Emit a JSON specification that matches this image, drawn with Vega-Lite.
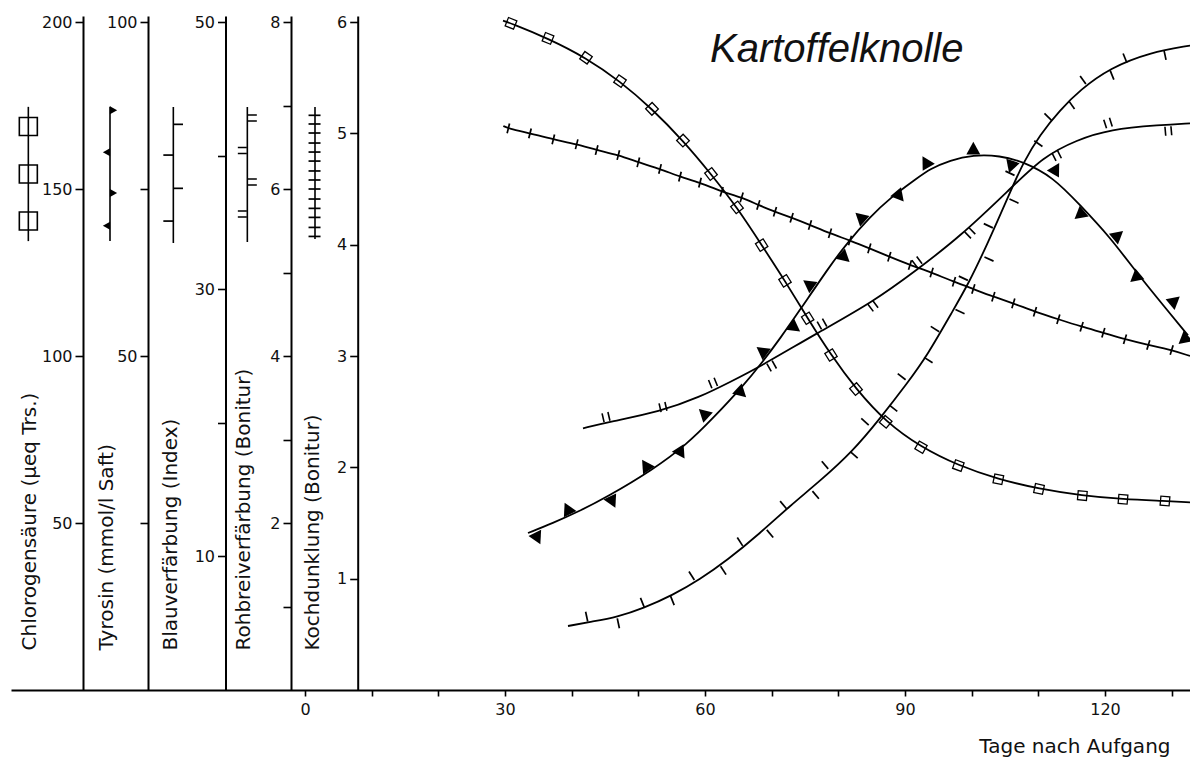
{
  "$schema": "https://vega.github.io/schema/vega-lite/v6.json",
  "width": 1179,
  "height": 674,
  "autosize": {"type": "none"},
  "padding": {"left": 11, "top": 16, "right": 0, "bottom": 68},
  "background": "white",
  "config": {
    "view": {"stroke": null},
    "axis": {
      "domainColor": "black", "domainWidth": 2, "tickColor": "black", "tickWidth": 1.6,
      "labelFont": "DejaVu Sans", "labelFontSize": 16, "labelColor": "#111111",
      "titleFont": "DejaVu Sans", "titleFontSize": 20, "titleFontWeight": "normal", "titleColor": "#111111",
      "grid": false, "labelOverlap": false, "labelFlush": false, "format": "d"
    }
  },
  "title": {
    "text": "Kartoffelknolle", "font": "Liberation Sans", "fontStyle": "italic", "fontWeight": "normal",
    "fontSize": 40, "color": "#111111", "anchor": "start", "frame": "group", "orient": "top",
    "baseline": "alphabetic", "offset": 0, "dx": 699, "dy": 88
  },
  "datasets": {
    "chl_line": [
      {"t": 29.7, "v": 200.4}, {"t": 30.9, "v": 199.6}, {"t": 36.45, "v": 195.1}, {"t": 42.15, "v": 189.3},
      {"t": 47.25, "v": 182.3}, {"t": 52.05, "v": 174.0}, {"t": 56.7, "v": 164.5}, {"t": 60.9, "v": 154.5},
      {"t": 64.8, "v": 144.5}, {"t": 68.5, "v": 133.2}, {"t": 72.0, "v": 122.5}, {"t": 75.4, "v": 111.3},
      {"t": 78.9, "v": 100.3}, {"t": 82.65, "v": 90.1}, {"t": 87.1, "v": 80.3}, {"t": 92.4, "v": 72.7},
      {"t": 98.0, "v": 67.2}, {"t": 104.0, "v": 63.1}, {"t": 110.1, "v": 60.2}, {"t": 116.6, "v": 58.2},
      {"t": 122.7, "v": 57.1}, {"t": 129.0, "v": 56.6}, {"t": 132.75, "v": 56.2}
    ],
    "chl_mk": [
      {"t": 30.9, "v": 199.6}, {"t": 36.45, "v": 195.1}, {"t": 42.15, "v": 189.3},
      {"t": 47.25, "v": 182.3}, {"t": 52.05, "v": 174.0}, {"t": 56.7, "v": 164.5}, {"t": 60.9, "v": 154.5},
      {"t": 64.8, "v": 144.5}, {"t": 68.5, "v": 133.2}, {"t": 72.0, "v": 122.5}, {"t": 75.4, "v": 111.3},
      {"t": 78.9, "v": 100.3}, {"t": 82.65, "v": 90.1}, {"t": 87.1, "v": 80.3}, {"t": 92.4, "v": 72.7},
      {"t": 98.0, "v": 67.2}, {"t": 104.0, "v": 63.1}, {"t": 110.1, "v": 60.2}, {"t": 116.6, "v": 58.2},
      {"t": 122.7, "v": 57.1}, {"t": 129.0, "v": 56.6}
    ],
    "chl_leg": [{"t": -41.5, "v": 134.4, "v2": 174.6}],
    "chl_legmk": [{"t": -41.5, "v": 168.7}, {"t": -41.5, "v": 154.5}, {"t": -41.5, "v": 140.4}],
    "tyr_line": [
      {"t": 33.45, "v": 23.5}, {"t": 37.2, "v": 25.0}, {"t": 40.8, "v": 26.6}, {"t": 45.3, "v": 28.9},
      {"t": 52.2, "v": 33.0}, {"t": 57.3, "v": 36.8}, {"t": 61.2, "v": 40.7}, {"t": 65.7, "v": 45.5},
      {"t": 68.7, "v": 49.2}, {"t": 71.25, "v": 52.6}, {"t": 74.25, "v": 56.9}, {"t": 78.75, "v": 63.5},
      {"t": 81.3, "v": 66.9}, {"t": 84.75, "v": 70.8}, {"t": 87.75, "v": 73.65}, {"t": 91.8, "v": 76.6},
      {"t": 93.75, "v": 78.0}, {"t": 96.75, "v": 79.3}, {"t": 100.2, "v": 80.1}, {"t": 104.25, "v": 80.0},
      {"t": 107.7, "v": 79.1}, {"t": 112.2, "v": 76.8}, {"t": 116.25, "v": 72.6}, {"t": 120.75, "v": 67.8},
      {"t": 124.8, "v": 62.4}, {"t": 129.3, "v": 56.9}, {"t": 132.45, "v": 53.1}
    ],
    "tyr_up": [
      {"t": 39.5, "v": 26.9}, {"t": 51.25, "v": 33.4}, {"t": 60.0, "v": 41.2}, {"t": 68.75, "v": 50.6},
      {"t": 75.75, "v": 60.6}, {"t": 83.5, "v": 70.6}, {"t": 93.25, "v": 78.8}, {"t": 100.25, "v": 80.8},
      {"t": 112.5, "v": 77.8}, {"t": 121.75, "v": 67.9}, {"t": 130.25, "v": 58.1}
    ],
    "tyr_down": [
      {"t": 34.75, "v": 22.95}, {"t": 46.0, "v": 28.4}, {"t": 56.25, "v": 35.7}, {"t": 65.25, "v": 44.7},
      {"t": 73.25, "v": 54.4}, {"t": 80.75, "v": 64.9}, {"t": 89.0, "v": 74.1}, {"t": 106.0, "v": 78.6},
      {"t": 116.4, "v": 71.3}, {"t": 124.75, "v": 61.9}, {"t": 132.0, "v": 52.6}
    ],
    "tyr_leg": [{"t": -29.25, "v": 67.2, "v2": 87.3}],
    "tyr_legmk_r": [{"t": -28.9, "v": 86.8}, {"t": -28.9, "v": 74.4}],
    "tyr_legmk_l": [{"t": -29.6, "v": 80.5}, {"t": -29.6, "v": 69.5}],
    "bla_line": [
      {"t": 39.45, "v": 4.79}, {"t": 43.2, "v": 5.13}, {"t": 46.8, "v": 5.46}, {"t": 50.7, "v": 6.11},
      {"t": 55.2, "v": 7.11}, {"t": 59.25, "v": 8.29}, {"t": 63.3, "v": 9.7}, {"t": 68.25, "v": 11.73},
      {"t": 72.75, "v": 13.79}, {"t": 77.25, "v": 15.64}, {"t": 82.2, "v": 17.89}, {"t": 86.25, "v": 20.32},
      {"t": 90.3, "v": 22.94}, {"t": 93.3, "v": 25.0}, {"t": 97.2, "v": 28.41}, {"t": 99.45, "v": 30.35},
      {"t": 102.3, "v": 33.31}, {"t": 105.75, "v": 37.24}, {"t": 107.7, "v": 39.46}, {"t": 110.25, "v": 41.58},
      {"t": 113.25, "v": 43.41}, {"t": 116.25, "v": 44.91}, {"t": 120.75, "v": 46.56}, {"t": 126.75, "v": 47.72},
      {"t": 132.75, "v": 48.24}
    ],
    "bla_mk": [
      {"t": 42.25, "v": 5.49}, {"t": 50.6, "v": 6.55}, {"t": 58.0, "v": 8.55}, {"t": 65.25, "v": 11.1},
      {"t": 71.75, "v": 13.85}, {"t": 78.0, "v": 16.84}, {"t": 84.0, "v": 20.08}, {"t": 89.5, "v": 23.45},
      {"t": 94.5, "v": 27.02}, {"t": 98.75, "v": 30.82}, {"t": 102.5, "v": 34.75}, {"t": 105.75, "v": 38.68},
      {"t": 111.45, "v": 42.9}, {"t": 116.7, "v": 45.66}, {"t": 123.0, "v": 47.3},
      {"t": 47.0, "v": 4.99}, {"t": 55.1, "v": 6.7}, {"t": 62.75, "v": 8.95}, {"t": 69.75, "v": 11.7},
      {"t": 76.6, "v": 14.6}, {"t": 82.35, "v": 17.6}, {"t": 88.25, "v": 21.09}, {"t": 93.5, "v": 24.7},
      {"t": 98.25, "v": 28.32}, {"t": 102.6, "v": 32.26}, {"t": 106.35, "v": 36.6}, {"t": 110.0, "v": 40.9},
      {"t": 115.0, "v": 43.79}, {"t": 121.05, "v": 46.03}, {"t": 129.0, "v": 47.53}
    ],
    "bla_leg": [{"t": -19.75, "v": 33.46, "v2": 43.64}],
    "bla_legmk": [{"t": -19.05, "v": 42.34}, {"t": -20.5, "v": 40.04}, {"t": -19.05, "v": 37.55}, {"t": -20.5, "v": 35.1}],
    "roh_line": [
      {"t": 41.7, "v": 3.134}, {"t": 45.75, "v": 3.213}, {"t": 53.25, "v": 3.333}, {"t": 59.25, "v": 3.509},
      {"t": 63.75, "v": 3.689}, {"t": 68.25, "v": 3.872}, {"t": 76.75, "v": 4.272}, {"t": 85.25, "v": 4.65},
      {"t": 91.75, "v": 5.03}, {"t": 98.25, "v": 5.429}, {"t": 105.75, "v": 6.0}, {"t": 110.75, "v": 6.387},
      {"t": 115.75, "v": 6.587}, {"t": 120.75, "v": 6.715}, {"t": 128.25, "v": 6.766}, {"t": 132.75, "v": 6.787}
    ],
    "roh_mk": [
      {"t": 45.15, "v": 3.269}, {"t": 53.7, "v": 3.389}, {"t": 61.2, "v": 3.677}, {"t": 70.0, "v": 3.88},
      {"t": 77.55, "v": 4.383}, {"t": 85.2, "v": 4.599}, {"t": 91.8, "v": 5.126}, {"t": 99.75, "v": 5.473},
      {"t": 112.75, "v": 6.4}, {"t": 120.45, "v": 6.79}, {"t": 129.5, "v": 6.695}
    ],
    "roh_leg": [{"t": -8.65, "v": 5.365, "v2": 6.982}],
    "roh_legmk": [{"t": -7.9, "v": 6.85}, {"t": -9.4, "v": 6.461}, {"t": -7.9, "v": 6.084}, {"t": -9.4, "v": 5.7}],
    "koc_line": [
      {"t": 29.75, "v": 5.066}, {"t": 30.5, "v": 5.045}, {"t": 33.75, "v": 5.0}, {"t": 37.25, "v": 4.946},
      {"t": 40.75, "v": 4.902}, {"t": 43.75, "v": 4.85}, {"t": 47.0, "v": 4.805}, {"t": 50.0, "v": 4.74},
      {"t": 53.25, "v": 4.68}, {"t": 56.25, "v": 4.611}, {"t": 59.25, "v": 4.557}, {"t": 62.5, "v": 4.476},
      {"t": 65.5, "v": 4.425}, {"t": 68.0, "v": 4.356}, {"t": 70.5, "v": 4.296}, {"t": 73.0, "v": 4.242},
      {"t": 75.75, "v": 4.177}, {"t": 78.75, "v": 4.102}, {"t": 81.75, "v": 4.037}, {"t": 84.65, "v": 3.967},
      {"t": 87.65, "v": 3.892}, {"t": 90.75, "v": 3.817}, {"t": 94.0, "v": 3.75}, {"t": 97.35, "v": 3.667},
      {"t": 100.25, "v": 3.602}, {"t": 103.25, "v": 3.533}, {"t": 106.25, "v": 3.473}, {"t": 109.5, "v": 3.398},
      {"t": 113.0, "v": 3.33}, {"t": 116.5, "v": 3.263}, {"t": 119.75, "v": 3.209}, {"t": 123.0, "v": 3.15},
      {"t": 126.5, "v": 3.099}, {"t": 130.0, "v": 3.054}, {"t": 132.75, "v": 3.0}
    ],
    "koc_mk": [
      {"t": 30.5, "v": 5.045}, {"t": 33.75, "v": 5.0}, {"t": 37.25, "v": 4.946},
      {"t": 40.75, "v": 4.902}, {"t": 43.75, "v": 4.85}, {"t": 47.0, "v": 4.805}, {"t": 50.0, "v": 4.74},
      {"t": 53.25, "v": 4.68}, {"t": 56.25, "v": 4.611}, {"t": 59.25, "v": 4.557}, {"t": 62.5, "v": 4.476},
      {"t": 65.5, "v": 4.425}, {"t": 68.0, "v": 4.356}, {"t": 70.5, "v": 4.296}, {"t": 73.0, "v": 4.242},
      {"t": 75.75, "v": 4.177}, {"t": 78.75, "v": 4.102}, {"t": 81.75, "v": 4.037}, {"t": 84.65, "v": 3.967},
      {"t": 87.65, "v": 3.892}, {"t": 90.75, "v": 3.817}, {"t": 94.0, "v": 3.75}, {"t": 97.35, "v": 3.667},
      {"t": 100.25, "v": 3.602}, {"t": 103.25, "v": 3.533}, {"t": 106.25, "v": 3.473}, {"t": 109.5, "v": 3.398},
      {"t": 113.0, "v": 3.33}, {"t": 116.5, "v": 3.263}, {"t": 119.75, "v": 3.209}, {"t": 123.0, "v": 3.15},
      {"t": 126.5, "v": 3.099}, {"t": 130.0, "v": 3.054}
    ],
    "koc_leg": [{"t": 1.5, "v": 4.051, "v2": 5.237}],
    "koc_legmk": [
      {"t": 1.43, "v": 5.162}, {"t": 1.43, "v": 5.084}, {"t": 1.43, "v": 5.003}, {"t": 1.43, "v": 4.913},
      {"t": 1.43, "v": 4.832}, {"t": 1.43, "v": 4.751}, {"t": 1.43, "v": 4.662}, {"t": 1.43, "v": 4.581},
      {"t": 1.43, "v": 4.5}, {"t": 1.43, "v": 4.41}, {"t": 1.43, "v": 4.326}, {"t": 1.43, "v": 4.245},
      {"t": 1.43, "v": 4.155}, {"t": 1.43, "v": 4.074}
    ]
  },
  "layer": [
    {
      "layer": [
        {
          "data": {"name": "chl_line"},
          "mark": {"type": "line", "interpolate": "basis", "color": "black", "strokeWidth": 1.8},
          "encoding": {
            "x": {"field": "t", "type": "quantitative", "scale": {"domain": [-44.1, 132.75], "nice": false, "zero": false},
              "axis": {"values": [0, 10, 20, 30, 40, 50, 60, 70, 80, 90, 100, 110, 120, 130],
                "labelExpr": "datum.value % 30 === 0 ? datum.label : ''", "tickSize": 6, "labelPadding": 5,
                "title": "Tage nach Aufgang", "titleX": 1159, "titleY": 62, "titleAlign": "right", "titleBaseline": "alphabetic"}},
            "y": {"field": "v", "type": "quantitative", "scale": {"domain": [0, 201.8], "nice": false, "zero": false},
              "axis": {"orient": "left", "offset": -72, "values": [50, 100, 150, 200], "tickSize": 8, "labelPadding": 3,
                "title": "Chlorogensäure (µeq Trs.)", "titleAngle": 270, "titleX": -54, "titleY": 634,
                "titleAlign": "left", "titleBaseline": "middle"}}
          }
        },
        {
          "data": {"name": "chl_mk"},
          "mark": {"type": "point", "shape": "square", "filled": false, "color": "black", "strokeWidth": 1.3, "size": 81, "opacity": 1},
          "encoding": {
            "x": {"field": "t", "type": "quantitative", "scale": {"domain": [-44.1, 132.75], "nice": false, "zero": false}},
            "y": {"field": "v", "type": "quantitative", "scale": {"domain": [0, 201.8], "nice": false, "zero": false}},
            "angle": {"condition": [
              {"test": "datum.t < 40", "value": 22}, {"test": "datum.t < 50", "value": 35},
              {"test": "datum.t < 60", "value": 46}, {"test": "datum.t < 67", "value": 52},
              {"test": "datum.t < 80", "value": 58}, {"test": "datum.t < 85", "value": 50},
              {"test": "datum.t < 90", "value": 40}, {"test": "datum.t < 96", "value": 30},
              {"test": "datum.t < 102", "value": 20}, {"test": "datum.t < 112", "value": 12}], "value": 5}
          }
        },
        {
          "data": {"name": "chl_leg"},
          "mark": {"type": "rule", "color": "black", "strokeWidth": 1.6},
          "encoding": {
            "x": {"field": "t", "type": "quantitative", "scale": {"domain": [-44.1, 132.75], "nice": false, "zero": false}},
            "y": {"field": "v", "type": "quantitative", "scale": {"domain": [0, 201.8], "nice": false, "zero": false}},
            "y2": {"field": "v2"}
          }
        },
        {
          "data": {"name": "chl_legmk"},
          "mark": {"type": "point", "shape": "square", "filled": false, "color": "black", "strokeWidth": 1.6, "size": 324, "opacity": 1},
          "encoding": {
            "x": {"field": "t", "type": "quantitative", "scale": {"domain": [-44.1, 132.75], "nice": false, "zero": false}},
            "y": {"field": "v", "type": "quantitative", "scale": {"domain": [0, 201.8], "nice": false, "zero": false}}
          }
        }
      ]
    },
    {
      "layer": [
        {
          "data": {"name": "tyr_line"},
          "mark": {"type": "line", "interpolate": "basis", "color": "black", "strokeWidth": 1.8},
          "encoding": {
            "x": {"field": "t", "type": "quantitative", "scale": {"domain": [-44.1, 132.75], "nice": false, "zero": false}},
            "y": {"field": "v", "type": "quantitative", "scale": {"domain": [0, 100.9], "nice": false, "zero": false},
              "axis": {"orient": "left", "offset": -137, "values": [25, 50, 75, 100], "tickSize": 8, "labelPadding": 3,
                "labelExpr": "datum.value % 50 === 0 ? datum.label : ''",
                "title": "Tyrosin (mmol/l Saft)", "titleAngle": 270, "titleX": -42, "titleY": 634,
                "titleAlign": "left", "titleBaseline": "middle"}}
          }
        },
        {
          "data": {"name": "tyr_up"},
          "mark": {"type": "point", "shape": "M-1,0.6L1,0.6L0,-1.2Z", "filled": true, "color": "black", "size": 196, "opacity": 1},
          "encoding": {
            "x": {"field": "t", "type": "quantitative", "scale": {"domain": [-44.1, 132.75], "nice": false, "zero": false}},
            "y": {"field": "v", "type": "quantitative", "scale": {"domain": [0, 100.9], "nice": false, "zero": false}},
            "angle": {"condition": [
              {"test": "datum.t < 50", "value": -26}, {"test": "datum.t < 57", "value": -33},
              {"test": "datum.t < 66", "value": -47}, {"test": "datum.t < 80", "value": -54},
              {"test": "datum.t < 86", "value": -48}, {"test": "datum.t < 92", "value": -40},
              {"test": "datum.t < 96", "value": -30}, {"test": "datum.t < 99", "value": -15},
              {"test": "datum.t < 105", "value": 0}, {"test": "datum.t < 109", "value": 18},
              {"test": "datum.t < 113", "value": 30}], "value": 50}
          }
        },
        {
          "data": {"name": "tyr_down"},
          "mark": {"type": "point", "shape": "M-1,-0.6L1,-0.6L0,1.2Z", "filled": true, "color": "black", "size": 196, "opacity": 1},
          "encoding": {
            "x": {"field": "t", "type": "quantitative", "scale": {"domain": [-44.1, 132.75], "nice": false, "zero": false}},
            "y": {"field": "v", "type": "quantitative", "scale": {"domain": [0, 100.9], "nice": false, "zero": false}},
            "angle": {"condition": [
              {"test": "datum.t < 50", "value": -26}, {"test": "datum.t < 57", "value": -33},
              {"test": "datum.t < 66", "value": -47}, {"test": "datum.t < 80", "value": -54},
              {"test": "datum.t < 86", "value": -48}, {"test": "datum.t < 92", "value": -40},
              {"test": "datum.t < 96", "value": -30}, {"test": "datum.t < 99", "value": -15},
              {"test": "datum.t < 105", "value": 0}, {"test": "datum.t < 109", "value": 18},
              {"test": "datum.t < 113", "value": 30}], "value": 50}
          }
        },
        {
          "data": {"name": "tyr_leg"},
          "mark": {"type": "rule", "color": "black", "strokeWidth": 1.6},
          "encoding": {
            "x": {"field": "t", "type": "quantitative", "scale": {"domain": [-44.1, 132.75], "nice": false, "zero": false}},
            "y": {"field": "v", "type": "quantitative", "scale": {"domain": [0, 100.9], "nice": false, "zero": false}},
            "y2": {"field": "v2"}
          }
        },
        {
          "data": {"name": "tyr_legmk_r"},
          "mark": {"type": "point", "shape": "M-1,0.6L1,0.6L0,-1.2Z", "filled": true, "color": "black", "size": 64, "opacity": 1, "angle": 90},
          "encoding": {
            "x": {"field": "t", "type": "quantitative", "scale": {"domain": [-44.1, 132.75], "nice": false, "zero": false}},
            "y": {"field": "v", "type": "quantitative", "scale": {"domain": [0, 100.9], "nice": false, "zero": false}}
          }
        },
        {
          "data": {"name": "tyr_legmk_l"},
          "mark": {"type": "point", "shape": "M-1,-0.6L1,-0.6L0,1.2Z", "filled": true, "color": "black", "size": 64, "opacity": 1, "angle": 90},
          "encoding": {
            "x": {"field": "t", "type": "quantitative", "scale": {"domain": [-44.1, 132.75], "nice": false, "zero": false}},
            "y": {"field": "v", "type": "quantitative", "scale": {"domain": [0, 100.9], "nice": false, "zero": false}}
          }
        }
      ]
    },
    {
      "layer": [
        {
          "data": {"name": "bla_line"},
          "mark": {"type": "line", "interpolate": "basis", "color": "black", "strokeWidth": 1.8},
          "encoding": {
            "x": {"field": "t", "type": "quantitative", "scale": {"domain": [-44.1, 132.75], "nice": false, "zero": false}},
            "y": {"field": "v", "type": "quantitative", "scale": {"domain": [0, 50.45], "nice": false, "zero": false},
              "axis": {"orient": "left", "offset": -214.5, "values": [10, 20, 30, 40, 50], "tickSize": 8, "labelPadding": 3,
                "labelExpr": "datum.value % 20 === 10 ? datum.label : ''",
                "title": "Blauverfärbung (Index)", "titleAngle": 270, "titleX": -55.5, "titleY": 634,
                "titleAlign": "left", "titleBaseline": "middle"}}
          }
        },
        {
          "data": {"name": "bla_mk"},
          "mark": {"type": "point", "shape": "M0,-1L0,1", "filled": false, "color": "black", "strokeWidth": 1.7, "size": 100, "opacity": 1},
          "encoding": {
            "x": {"field": "t", "type": "quantitative", "scale": {"domain": [-44.1, 132.75], "nice": false, "zero": false}},
            "y": {"field": "v", "type": "quantitative", "scale": {"domain": [0, 50.45], "nice": false, "zero": false}},
            "angle": {"condition": [
              {"test": "datum.t < 48", "value": -12}, {"test": "datum.t < 58", "value": -22},
              {"test": "datum.t < 66", "value": -33}, {"test": "datum.t < 80", "value": -40},
              {"test": "datum.t < 88", "value": -48}, {"test": "datum.t < 93", "value": -52},
              {"test": "datum.t < 97", "value": -58}, {"test": "datum.t < 108", "value": -65},
              {"test": "datum.t < 111", "value": -55}, {"test": "datum.t < 115", "value": -45},
              {"test": "datum.t < 120", "value": -35}, {"test": "datum.t < 126", "value": -22}], "value": -12}
          }
        },
        {
          "data": {"name": "bla_leg"},
          "mark": {"type": "rule", "color": "black", "strokeWidth": 1.6},
          "encoding": {
            "x": {"field": "t", "type": "quantitative", "scale": {"domain": [-44.1, 132.75], "nice": false, "zero": false}},
            "y": {"field": "v", "type": "quantitative", "scale": {"domain": [0, 50.45], "nice": false, "zero": false}},
            "y2": {"field": "v2"}
          }
        },
        {
          "data": {"name": "bla_legmk"},
          "mark": {"type": "point", "shape": "M0,-1L0,1", "filled": false, "color": "black", "strokeWidth": 1.7, "size": 100, "opacity": 1, "angle": 90},
          "encoding": {
            "x": {"field": "t", "type": "quantitative", "scale": {"domain": [-44.1, 132.75], "nice": false, "zero": false}},
            "y": {"field": "v", "type": "quantitative", "scale": {"domain": [0, 50.45], "nice": false, "zero": false}}
          }
        }
      ]
    },
    {
      "layer": [
        {
          "data": {"name": "roh_line"},
          "mark": {"type": "line", "interpolate": "basis", "color": "black", "strokeWidth": 1.8},
          "encoding": {
            "x": {"field": "t", "type": "quantitative", "scale": {"domain": [-44.1, 132.75], "nice": false, "zero": false}},
            "y": {"field": "v", "type": "quantitative", "scale": {"domain": [0, 8.072], "nice": false, "zero": false},
              "axis": {"orient": "left", "offset": -280, "values": [1, 2, 3, 4, 5, 6, 7, 8], "tickSize": 8, "labelPadding": 3,
                "format": "d", "labelExpr": "datum.value % 2 === 0 ? datum.label : ''",
                "title": "Rohbreiverfärbung (Bonitur)", "titleAngle": 270, "titleX": -48, "titleY": 634,
                "titleAlign": "left", "titleBaseline": "middle"}}
          }
        },
        {
          "data": {"name": "roh_mk"},
          "mark": {"type": "point", "shape": "M-0.6,-0.9L-0.6,0.9M0.6,-0.9L0.6,0.9", "filled": false, "color": "black", "strokeWidth": 1.6, "size": 100, "opacity": 1},
          "encoding": {
            "x": {"field": "t", "type": "quantitative", "scale": {"domain": [-44.1, 132.75], "nice": false, "zero": false}},
            "y": {"field": "v", "type": "quantitative", "scale": {"domain": [0, 8.072], "nice": false, "zero": false}},
            "angle": {"condition": [
              {"test": "datum.t < 55", "value": -13}, {"test": "datum.t < 63", "value": -22},
              {"test": "datum.t < 85", "value": -29}, {"test": "datum.t < 98", "value": -37},
              {"test": "datum.t < 111", "value": -44}, {"test": "datum.t < 116", "value": -27},
              {"test": "datum.t < 121", "value": -18}], "value": -5}
          }
        },
        {
          "data": {"name": "roh_leg"},
          "mark": {"type": "rule", "color": "black", "strokeWidth": 1.6},
          "encoding": {
            "x": {"field": "t", "type": "quantitative", "scale": {"domain": [-44.1, 132.75], "nice": false, "zero": false}},
            "y": {"field": "v", "type": "quantitative", "scale": {"domain": [0, 8.072], "nice": false, "zero": false}},
            "y2": {"field": "v2"}
          }
        },
        {
          "data": {"name": "roh_legmk"},
          "mark": {"type": "point", "shape": "M-0.6,-0.9L-0.6,0.9M0.6,-0.9L0.6,0.9", "filled": false, "color": "black", "strokeWidth": 1.6, "size": 100, "opacity": 1, "angle": 90},
          "encoding": {
            "x": {"field": "t", "type": "quantitative", "scale": {"domain": [-44.1, 132.75], "nice": false, "zero": false}},
            "y": {"field": "v", "type": "quantitative", "scale": {"domain": [0, 8.072], "nice": false, "zero": false}}
          }
        }
      ]
    },
    {
      "layer": [
        {
          "data": {"name": "koc_line"},
          "mark": {"type": "line", "interpolate": "basis", "color": "black", "strokeWidth": 1.8},
          "encoding": {
            "x": {"field": "t", "type": "quantitative", "scale": {"domain": [-44.1, 132.75], "nice": false, "zero": false}},
            "y": {"field": "v", "type": "quantitative", "scale": {"domain": [0, 6.054], "nice": false, "zero": false},
              "axis": {"orient": "left", "offset": -346.7, "values": [1, 2, 3, 4, 5, 6], "tickSize": 8, "labelPadding": 3,
                "format": "d",
                "title": "Kochdunklung (Bonitur)", "titleAngle": 270, "titleX": -45.7, "titleY": 634,
                "titleAlign": "left", "titleBaseline": "middle"}}
          }
        },
        {
          "data": {"name": "koc_mk"},
          "mark": {"type": "point", "shape": "M0,-1L0,1", "filled": false, "color": "black", "strokeWidth": 1.7, "size": 100, "opacity": 1},
          "encoding": {
            "x": {"field": "t", "type": "quantitative", "scale": {"domain": [-44.1, 132.75], "nice": false, "zero": false}},
            "y": {"field": "v", "type": "quantitative", "scale": {"domain": [0, 6.054], "nice": false, "zero": false}},
            "angle": {"condition": [{"test": "datum.t < 60", "value": 14}], "value": 17}
          }
        },
        {
          "data": {"name": "koc_leg"},
          "mark": {"type": "rule", "color": "black", "strokeWidth": 1.6},
          "encoding": {
            "x": {"field": "t", "type": "quantitative", "scale": {"domain": [-44.1, 132.75], "nice": false, "zero": false}},
            "y": {"field": "v", "type": "quantitative", "scale": {"domain": [0, 6.054], "nice": false, "zero": false}},
            "y2": {"field": "v2"}
          }
        },
        {
          "data": {"name": "koc_legmk"},
          "mark": {"type": "point", "shape": "M0,-1L0,1", "filled": false, "color": "black", "strokeWidth": 1.7, "size": 144, "opacity": 1, "angle": 90},
          "encoding": {
            "x": {"field": "t", "type": "quantitative", "scale": {"domain": [-44.1, 132.75], "nice": false, "zero": false}},
            "y": {"field": "v", "type": "quantitative", "scale": {"domain": [0, 6.054], "nice": false, "zero": false}}
          }
        }
      ]
    }
  ],
  "resolve": {"scale": {"y": "independent"}, "axis": {"y": "independent"}}
}
